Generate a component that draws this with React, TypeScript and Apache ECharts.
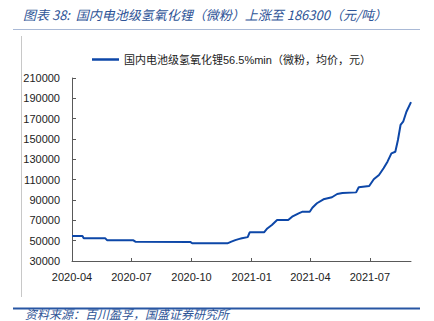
import React, { useEffect, useRef } from "react";
import * as echarts from "echarts";

const dates: string[] = [
  "2020-04-01", "2020-04-17", "2020-04-19", "2020-05-22", "2020-05-25",
  "2020-07-04", "2020-07-07", "2020-09-29", "2020-10-02", "2020-11-25",
  "2020-12-01", "2020-12-07", "2020-12-12", "2020-12-17", "2020-12-26",
  "2020-12-29", "2021-01-20", "2021-01-25", "2021-02-01", "2021-02-09",
  "2021-02-26", "2021-03-04", "2021-03-14", "2021-03-20", "2021-03-31",
  "2021-04-04", "2021-04-11", "2021-04-21", "2021-05-04", "2021-05-12",
  "2021-05-20", "2021-06-10", "2021-06-14", "2021-06-30", "2021-07-07",
  "2021-07-15", "2021-07-22", "2021-07-28", "2021-08-03", "2021-08-09",
  "2021-08-13", "2021-08-17", "2021-08-21", "2021-08-26", "2021-09-02",
];
const prices: number[] = [
  54500, 54500, 52300, 52300, 50300,
  50300, 49000, 48800, 47400, 47400,
  49000, 50500, 51500, 52300, 53500,
  58200, 58200, 62000, 65400, 70300,
  70300, 73600, 76900, 78500, 78500,
  82400, 86800, 90700, 92700, 95900,
  96900, 97500, 102500, 103800, 110400,
  114600, 121200, 127700, 135900, 137500,
  149000, 163800, 167000, 176800, 186300,
];
const xTickDates: string[] = ["2020-04-01", "2020-07-01", "2020-10-01", "2021-01-01", "2021-04-01", "2021-07-01"];
const yTicks: number[] = [30000, 50000, 70000, 90000, 110000, 130000, 150000, 170000, 190000, 210000];
const seriesName = "国内电池级氢氧化锂56.5%min（微粉，均价，元）";
const titleText = "图表 38:  国内电池级氢氧化锂（微粉）上涨至 186300（元/吨）";
const sourceText = "资料来源：百川盈孚，国盛证券研究所";

const ts = (s: string) => {
  const [y, m, d] = s.split("-").map(Number);
  return new Date(y, m - 1, d).getTime();
};

const FONT = "'Liberation Sans', 'Noto Sans CJK SC', sans-serif";
const CJK = "'Noto Sans CJK SC', sans-serif";

export default function App() {
  const ref = useRef<HTMLDivElement>(null);
  useEffect(() => {
    if (!ref.current) return;
    const chart = echarts.init(ref.current, null, { renderer: "svg" });
    const data = dates.map((d, i) => [ts(d), prices[i]]);
    const xTicks = xTickDates.map(ts);
    chart.setOption({
      animation: false,
      backgroundColor: "#ffffff",
      grid: { left: 72, right: 23, top: 78, bottom: 60, containLabel: false },
      legend: {
        show: true,
        left: 87,
        top: 49,
        icon: "rect",
        itemWidth: 27,
        itemHeight: 2.5,
        itemGap: 4,
        textStyle: { fontSize: 11, fontFamily: FONT, color: "#222" },
        data: [seriesName],
      },
      xAxis: {
        type: "value",
        min: ts(dates[0]),
        max: ts(dates[dates.length - 1]),
        axisLine: { show: true, lineStyle: { color: "#595959", width: 1 } },
        axisTick: { show: true, inside: true, length: 3, customValues: xTicks, lineStyle: { color: "#595959" } },
        axisLabel: {
          customValues: xTicks,
          fontSize: 11,
          fontFamily: FONT,
          color: "#222",
          margin: 10,
          formatter: (v: number) => {
            const d = new Date(v);
            return d.getFullYear() + "-" + String(d.getMonth() + 1).padStart(2, "0");
          },
        },
        splitLine: { show: false },
      },
      yAxis: {
        type: "value",
        min: 30000,
        max: 210000,
        axisLine: { show: true, lineStyle: { color: "#595959", width: 1 } },
        axisTick: { show: true, inside: true, length: 4, customValues: yTicks, lineStyle: { color: "#595959" } },
        axisLabel: {
          customValues: yTicks,
          fontSize: 11,
          fontFamily: FONT,
          color: "#222",
          margin: 12,
          formatter: (v: number) => String(v),
        },
        splitLine: { show: false },
      },
      series: [
        {
          name: seriesName,
          type: "line",
          data,
          showSymbol: false,
          symbol: "none",
          lineStyle: { color: "#0D47A8", width: 2 },
          itemStyle: { color: "#0D47A8" },
        },
      ],
      graphic: [
        {
          type: "text",
          x: 23,
          y: 14,
          style: {
            text: titleText,
            fill: "#2F5597",
            fontSize: 13,
            fontStyle: "italic",
            fontFamily: CJK,
            verticalAlign: "middle",
          },
        },
        {
          type: "line",
          shape: { x1: 13, y1: 29.5, x2: 420, y2: 29.5 },
          style: { stroke: "#A9B9D6", lineWidth: 1 },
        },
        {
          type: "line",
          shape: { x1: 21.5, y1: 36, x2: 21.5, y2: 297 },
          style: { stroke: "#C8C8C8", lineWidth: 1 },
        },
        {
          type: "line",
          shape: { x1: 13, y1: 308.5, x2: 420, y2: 308.5 },
          style: { stroke: "#2856A3", lineWidth: 2 },
        },
        {
          type: "text",
          x: 25,
          y: 313,
          style: {
            text: sourceText,
            fill: "#2F5597",
            fontSize: 12,
            lineHeight: 12,
            fontStyle: "italic",
            fontFamily: CJK,
            verticalAlign: "middle",
          },
        },
      ],
    });
    return () => chart.dispose();
  }, []);
  return <div ref={ref} style={{ position: "fixed", left: 0, top: 0, width: 434, height: 321 }} />;
}
